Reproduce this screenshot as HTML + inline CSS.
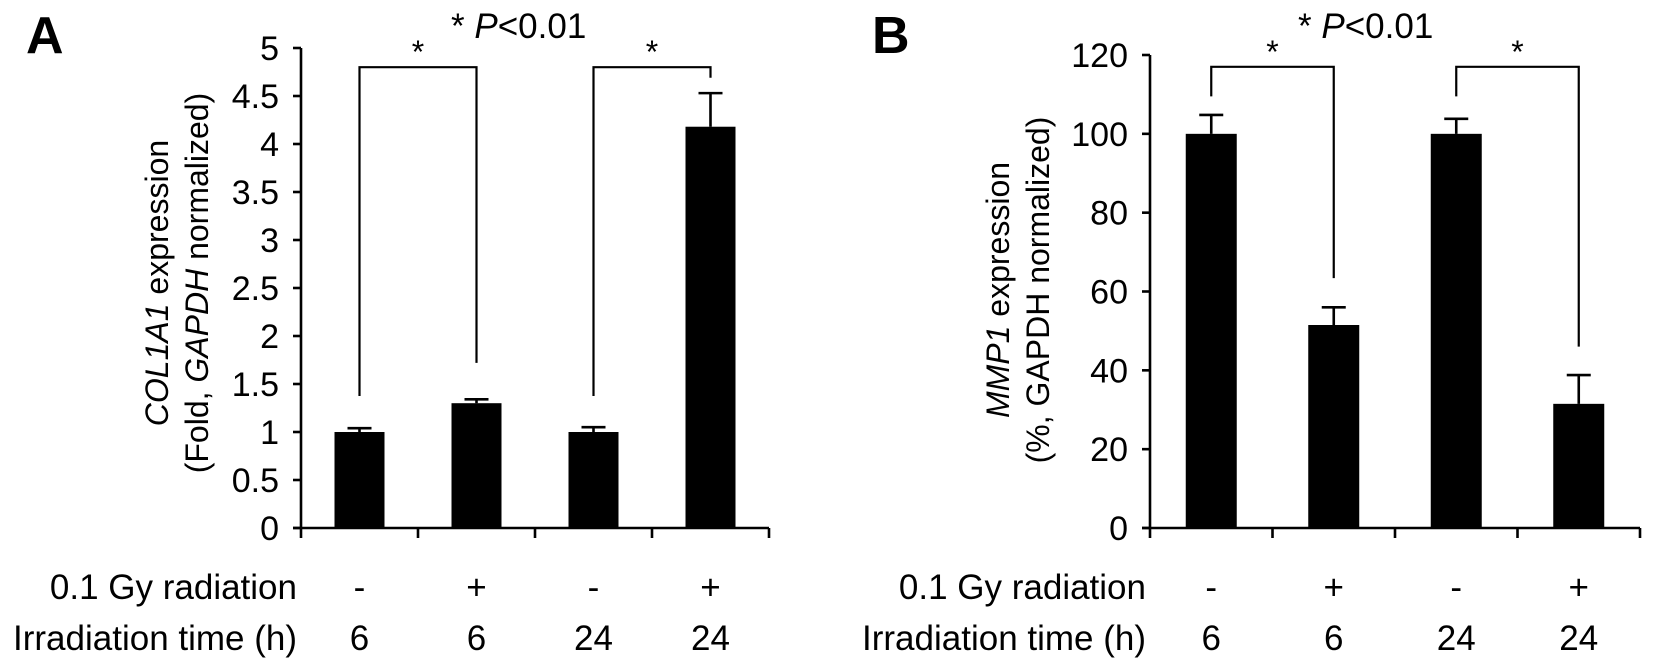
<!DOCTYPE html>
<html><head><meta charset="utf-8"><style>
html,body{margin:0;padding:0;background:#fff;}
svg{display:block;font-family:"Liberation Sans",Arial,sans-serif;}
</style></head><body>
<svg id="chart" width="1654" height="666" viewBox="0 0 1654 666" xmlns="http://www.w3.org/2000/svg">
<text x="26" y="53" font-size="52" font-weight="bold">A</text>
<text x="872" y="53" font-size="52" font-weight="bold">B</text>
<text x="451" y="38" font-size="35">* <tspan font-style="italic">P</tspan>&lt;0.01</text>
<text x="1298" y="38" font-size="35">* <tspan font-style="italic">P</tspan>&lt;0.01</text>
<g transform="translate(168,283) rotate(-90)">
<text x="0" y="0" font-size="32" text-anchor="middle"><tspan font-style="italic">COL1A1</tspan> expression</text>
<text x="0" y="40" font-size="32" text-anchor="middle">(Fold, <tspan font-style="italic">GAPDH</tspan> normalized)</text>
</g>
<g transform="translate(1009,290) rotate(-90)">
<text x="0" y="0" font-size="32" text-anchor="middle"><tspan font-style="italic">MMP1</tspan> expression</text>
<text x="0" y="40" font-size="32" text-anchor="middle">(%, GAPDH normalized)</text>
</g>
<g id="layer"></g>
</svg>
<script>
// Panel A data
const catsRad = ["-", "+", "-", "+"];
const catsTime = ["6", "6", "24", "24"];
const valuesA = [1.0, 1.3, 1.0, 4.18];
const errorsA = [0.04, 0.04, 0.05, 0.35];
const ticksA = [0, 0.5, 1, 1.5, 2, 2.5, 3, 3.5, 4, 4.5, 5];
const bracketTopA = 4.8;
const bracketEndsA = [[1.375, 1.72], [1.375, 4.69]];
// Panel B data
const valuesB = [100, 51.5, 100, 31.5];
const errorsB = [4.8, 4.5, 3.8, 7.3];
const ticksB = [0, 20, 40, 60, 80, 100, 120];
const bracketTopB = 117;
const bracketEndsB = [[109.5, 63.4], [109.5, 46]];

const NS = "http://www.w3.org/2000/svg";
const layer = document.getElementById('layer');
function mk(tag, attrs, parent) {
  const e = document.createElementNS(NS, tag);
  for (const k in attrs) e.setAttribute(k, attrs[k]);
  (parent || layer).appendChild(e);
  return e;
}
function panel(p) {
  const y = v => p.y0 - (v - p.min) / (p.max - p.min) * (p.y0 - p.yTop);
  const x = i => p.x0 + p.step * (i + 0.5);
  const g = mk('g', {});
  
  
  const sw = 2.6;
  const ya = mk('line', {x1: p.x0, y1: p.yTop, x2: p.x0, y2: p.y0, stroke: '#000', 'stroke-width': sw}, g);
  
  
  const xa = mk('line', {x1: p.x0 - 8, y1: p.y0, x2: p.x0 + p.step * 4, y2: p.y0, stroke: '#000', 'stroke-width': sw}, g);
  
  
  for (let i = 0; i <= 4; i++) {
    const t = mk('line', {x1: p.x0 + p.step * i, y1: p.y0, x2: p.x0 + p.step * i, y2: p.y0 + 10, stroke: '#000', 'stroke-width': sw}, g);
    
    
  }
  p.ticks.forEach(v => {
    const t = mk('line', {x1: p.x0 - 8, y1: y(v), x2: p.x0, y2: y(v), stroke: '#000', 'stroke-width': sw}, g);
    
    
    const l = mk('text', {x: p.x0 - 22, y: y(v) + 12, 'font-size': 34, 'text-anchor': 'end'}, g);
    l.textContent = String(v);
    
    
  });
  p.values.forEach((v, i) => {
    const b = mk('rect', {x: x(i) - p.bw / 2, y: y(v), width: p.bw, height: p.y0 - y(v), fill: '#000'}, g);
    
    
    const e = mk('path', {d: `M${x(i)},${y(v)}V${y(v + p.errs[i])}M${x(i) - 12},${y(v + p.errs[i])}H${x(i) + 12}`, stroke: '#000', 'stroke-width': sw, fill: 'none'}, g);
    
    
    const r = mk('text', {x: x(i), y: 599, 'font-size': 35, 'text-anchor': 'middle'}, g);
    r.textContent = catsRad[i];
    
    
    const tt = mk('text', {x: x(i), y: 650, 'font-size': 35, 'text-anchor': 'middle'}, g);
    tt.textContent = catsTime[i];
    
    
  });
  p.brackets.forEach((be, k) => {
    const a = x(2 * k), c = x(2 * k + 1), top = y(p.bTop);
    const br = mk('path', {d: `M${a},${y(be[0])}V${top}H${c}V${y(be[1])}`, stroke: '#000', 'stroke-width': 2.2, fill: 'none'}, g);
    
    
    const s = mk('text', {x: (a + c) / 2, y: top - 4, 'font-size': 32, 'text-anchor': 'middle'}, g);
    s.textContent = '*';
    
    
  });
  const r1 = mk('text', {x: p.x0 - 4, y: 599, 'font-size': 35, 'text-anchor': 'end'}, g);
  r1.textContent = '0.1 Gy radiation';
  
  
  const r2 = mk('text', {x: p.x0 - 4, y: 650, 'font-size': 35, 'text-anchor': 'end'}, g);
  r2.textContent = 'Irradiation time (h)';
  
  
}
panel({name: 'panel-a', x0: 301, step: 117, bw: 50, y0: 528, yTop: 48, min: 0, max: 5, ticks: ticksA, values: valuesA, errs: errorsA, bTop: bracketTopA, brackets: bracketEndsA});
panel({name: 'panel-b', x0: 1150, step: 122.5, bw: 51, y0: 528, yTop: 55, min: 0, max: 120, ticks: ticksB, values: valuesB, errs: errorsB, bTop: bracketTopB, brackets: bracketEndsB});
</script>
</body></html>
